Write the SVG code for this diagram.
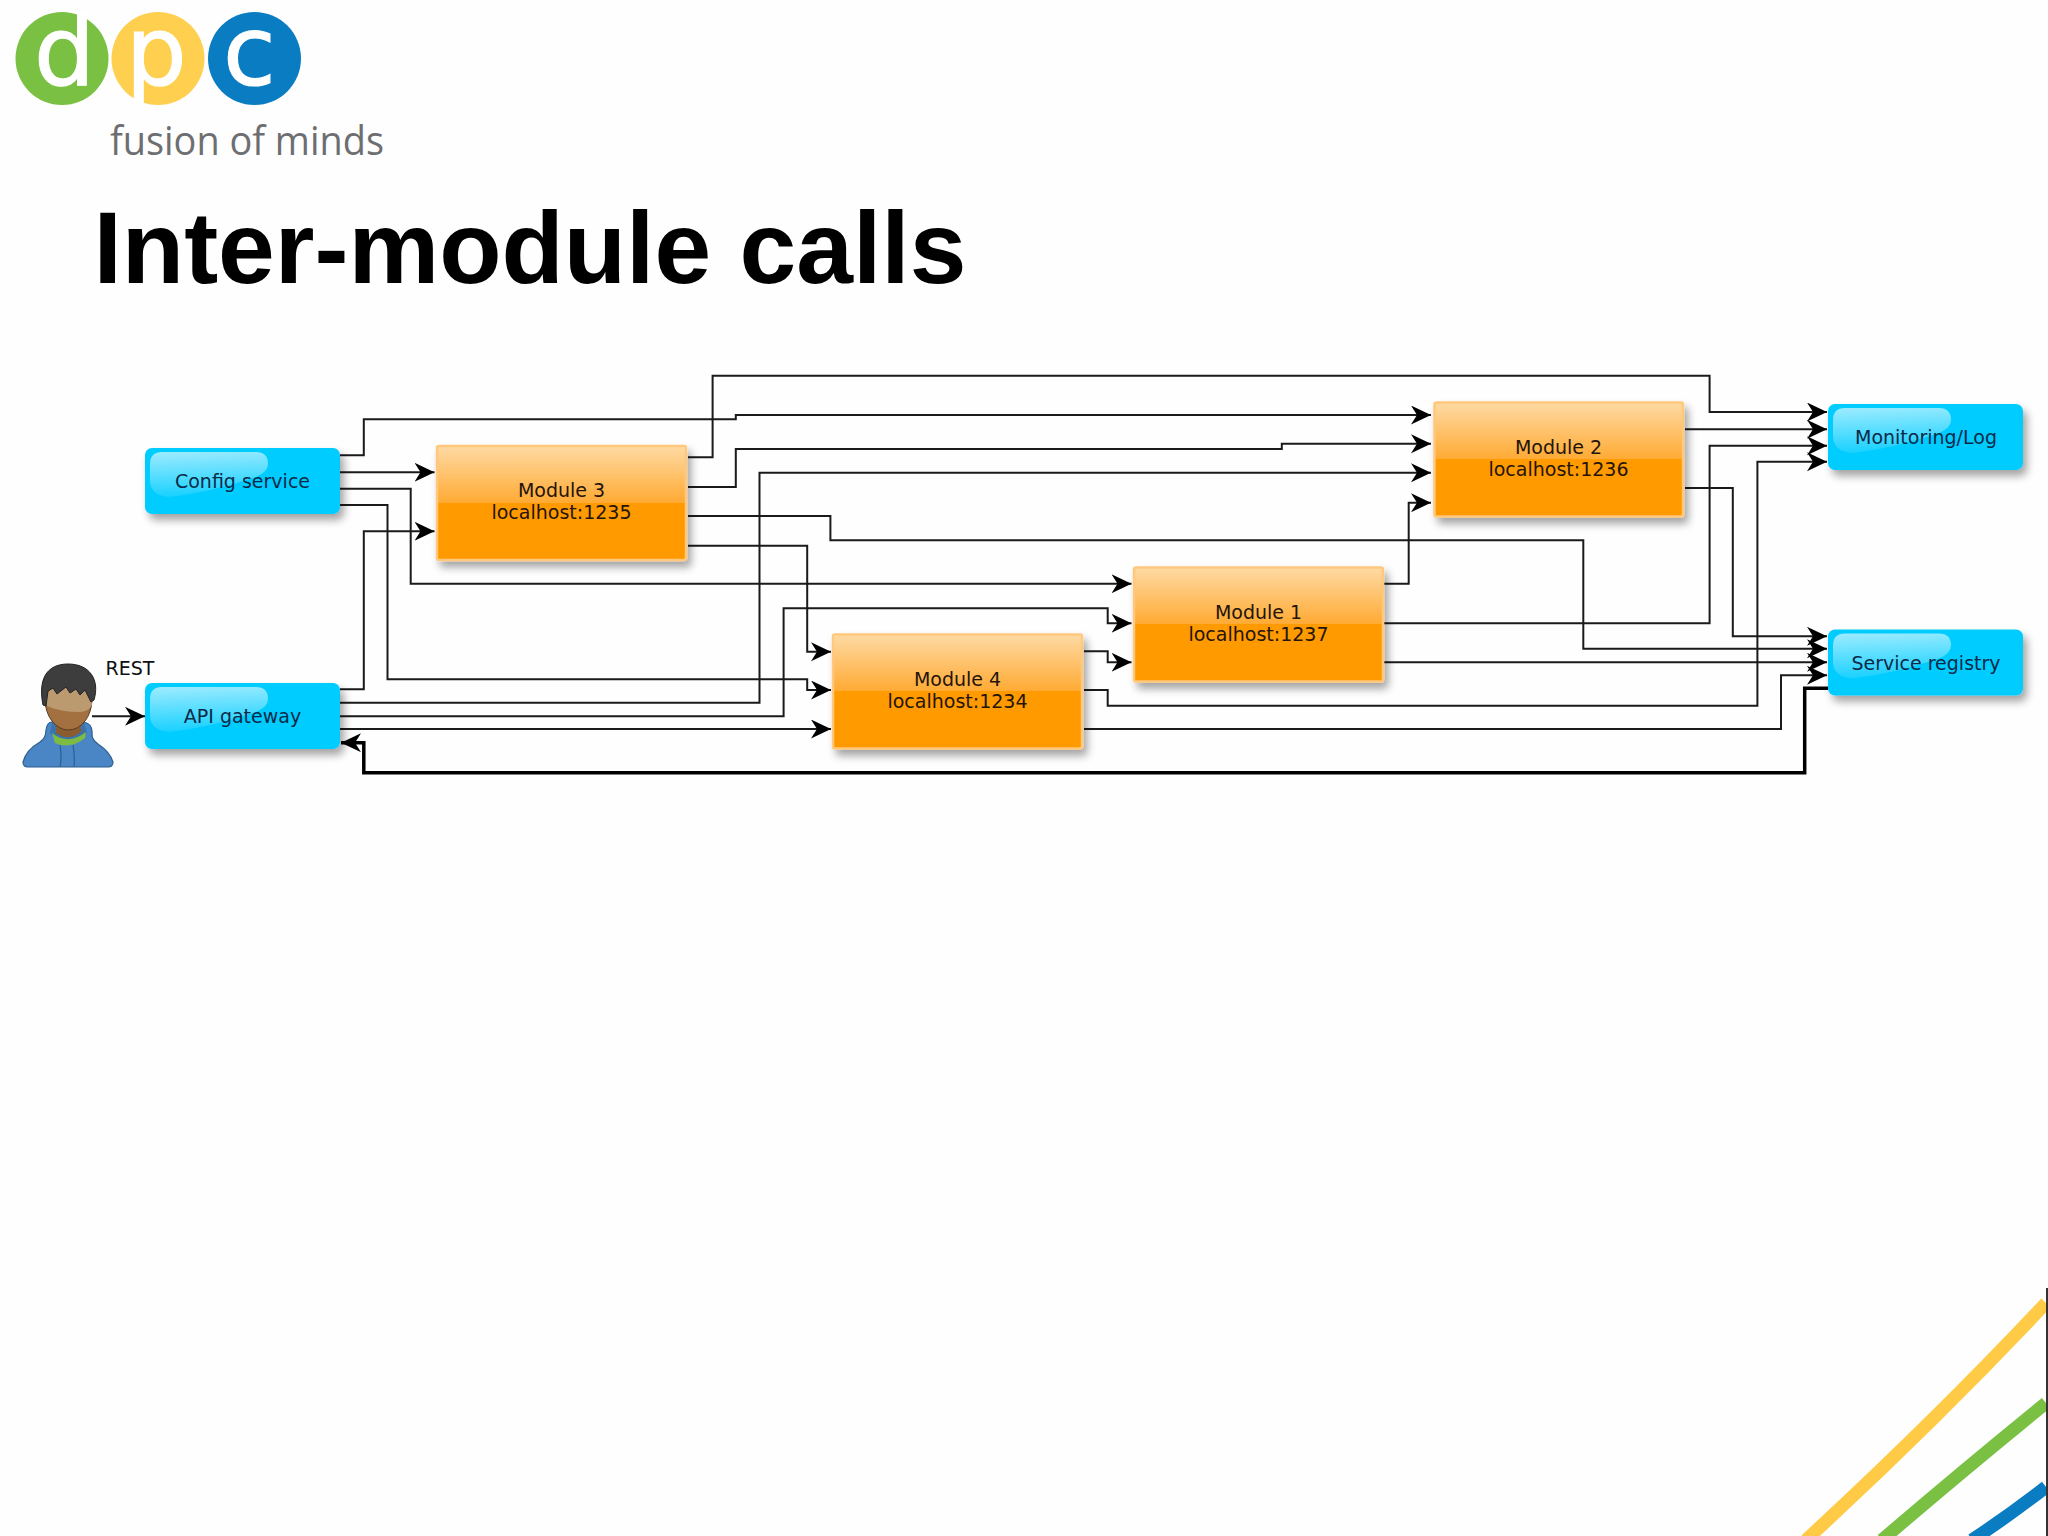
<svg xmlns="http://www.w3.org/2000/svg" width="2048" height="1536" viewBox="0 0 2048 1536">
<defs>
<style>
.c{fill:none;stroke:#1a1a1a;stroke-width:2;marker-end:url(#a)}
.t{font-family:"DejaVu Sans",sans-serif;font-size:19px;fill:#24140a;text-anchor:middle}
.u{fill:#0a2a48}
.b{fill:#00ccff;filter:url(#s)}
.m{fill:url(#mg);stroke:#ffc87c;stroke-width:2.5;filter:url(#s)}
.g{fill:url(#gl)}
</style>
<linearGradient id="mg" x1="0" y1="0" x2="0" y2="1">
<stop offset="0" stop-color="#fedaa4"/><stop offset="0.5" stop-color="#ffaa33"/><stop offset="0.5" stop-color="#ff9a05"/><stop offset="1" stop-color="#ff9900"/>
</linearGradient>
<linearGradient id="gl" x1="0" y1="0" x2="0.12" y2="1">
<stop offset="0" stop-color="#ffffff" stop-opacity="0.62"/><stop offset="1" stop-color="#ffffff" stop-opacity="0.1"/>
</linearGradient>
<path id="gloss" d="M0,12 Q0,0 12,0 H106 Q118,0 118,12 Q118,20 106,25 Q62,40 20,45 Q0,44 0,28 Z"/>
<filter id="s" x="-10%" y="-15%" width="125%" height="150%">
<feGaussianBlur in="SourceAlpha" stdDeviation="4"/><feOffset dx="4" dy="6"/><feComponentTransfer><feFuncA type="linear" slope="0.36"/></feComponentTransfer>
<feMerge><feMergeNode/><feMergeNode in="SourceGraphic"/></feMerge>
</filter>
<marker id="a" markerUnits="userSpaceOnUse" markerWidth="22" markerHeight="20" refX="20" refY="9.500" orient="auto"><path d="M0,0 L20,9.500 L0,19 L6,9.500 z" fill="#000"/></marker>
</defs>
<rect width="2048" height="1536" fill="#fefefe"/>
<g id="logo">
<circle cx="62" cy="58.500" r="46.500" fill="#7ac143"/>
<circle cx="158" cy="58.500" r="46.500" fill="#ffcf4f"/>
<circle cx="254.500" cy="58.500" r="46.500" fill="#0a7dc2"/>
<g font-family="DejaVu Sans, sans-serif" font-size="96" fill="#fff" stroke="#fff" stroke-width="1.2" text-anchor="middle">
<text x="64.500" y="85">d</text>
<text x="156.300" y="85">p</text>
<text x="249.500" y="85">c</text>
</g>
<text x="110" y="155" font-family="Open Sans, sans-serif" font-size="40" fill="#6d6e71" textLength="274" lengthAdjust="spacingAndGlyphs">fusion of minds</text>
</g>
<text id="title" x="93.500" y="283" font-family="Liberation Sans, sans-serif" font-weight="bold" font-size="102" fill="#000">Inter-module calls</text>
<g id="swoosh" fill="none" stroke-width="13">
<path d="M1806,1540 Q1936,1420 2046,1303" stroke="#ffcb47"/>
<path d="M1882,1540 Q1958,1474.500 2046,1403" stroke="#7ac143"/>
<path d="M1972,1540 Q2010,1515 2046,1487" stroke="#0a7dc2"/>
<path d="M2047,1288V1536" stroke="#333" stroke-width="2"/>
</g>
<g id="connectors">
<path class="c" d="M92,716.300H145"/>
<path class="c" d="M340,455.300H363.800V419.300H735.800V415H1431"/>
<path class="c" d="M340,472.300H434.500"/>
<path class="c" d="M340,488.700H410.700V583.700H1131.500"/>
<path class="c" d="M340,505H387.500V679.300H807.200V690H831"/>
<path class="c" d="M340,689.300H363.800V531.300H434.500"/>
<path class="c" d="M340,702.700H759.500V472.700H1431"/>
<path class="c" d="M340,716.300H783.600V608.300H1107.700V623.300H1131.500"/>
<path class="c" d="M340,729H831"/>
<path class="c" d="M688,457.300H712.600V375.700H1709.600V412H1827"/>
<path class="c" d="M688,487H735.800V449H1281.800V443.700H1431"/>
<path class="c" d="M688,516H830.400V540.300H1583.300V648.700H1827"/>
<path class="c" d="M688,545.700H807.200V651.700H831"/>
<path class="c" d="M1084,651.300H1107.700V662.300H1131.500"/>
<path class="c" d="M1084,690H1107.700V705.700H1757.400V461.700H1827"/>
<path class="c" d="M1084,729H1781V675.300H1827"/>
<path class="c" d="M1384,583.700H1408.700V502.700H1431"/>
<path class="c" d="M1384,623.300H1709.600V445.700H1827"/>
<path class="c" d="M1384,662.300H1827"/>
<path class="c" d="M1685,429.300H1827"/>
<path class="c" d="M1685,488H1732.800V636.300H1827"/>
<path class="c" style="stroke-width:3.500;stroke:#000" d="M1828,688.300H1804.700V772.700H363.800V742.700H341"/>
</g>
<g id="person" stroke-linejoin="round">
<path d="M23,762 Q26,750 40,742 Q46,738 46,730 Q47,722 52,722 L84,722 Q93,724 92,734 Q92,740 98,744 Q110,752 113,762 Q113,767 108,767 L28,767 Q23,767 23,762 Z" fill="#4a86c5" stroke="#2d5f8f" stroke-width="1.200"/>
<path d="M52,722 H84 L87,733 Q68,752 50,733 Z" fill="#3b74ad"/>
<path d="M52,733 Q68,746 86,732 L85,738 Q70,750 55,743 Z" fill="#7dbb42"/>
<path d="M56,722 H81 V732 Q68,742 56,733 Z" fill="#8a5c30"/>
<path d="M60,745 Q62,756 60,767 M73,745 Q75,756 74,767" stroke="#2d5f8f" fill="none" stroke-width="1.200"/>
<ellipse cx="68.500" cy="699" rx="23.500" ry="31" fill="#a2713f" stroke="#5a3b1c" stroke-width="1"/>
<path d="M45.500,700 Q46,690 55,688 H85 Q92,692 92,705 Q88,712 80,712 Q60,712 47,706 Z" fill="#bb9a70"/>
<path d="M43,705 C38,680 46,664 68,664 C90,664 100,680 94,700 L91,702 L85,690 L80,695 L76,689 L70,693 L66,687 L57,694 L53,688 L48,691 L46,706 Z" fill="#3d3d3d" stroke="#222" stroke-width="1"/>
</g>
<text id="rest" x="105.500" y="675" font-family="DejaVu Sans, sans-serif" font-size="19" fill="#111">REST</text>
<g id="config"><rect class="b" x="145" y="448" width="195" height="66" rx="7"/><use href="#gloss" class="g" x="150" y="452"/><text class="t u" x="242.500" y="488">Config service</text></g>
<g id="api"><rect class="b" x="145" y="683" width="195" height="66" rx="7"/><use href="#gloss" class="g" x="150" y="687"/><text class="t u" x="242.500" y="723">API gateway</text></g>
<g id="monitoring"><rect class="b" x="1828" y="404" width="195" height="66" rx="7"/><use href="#gloss" class="g" x="1833" y="408"/><text class="t u" x="1926" y="444">Monitoring/Log</text></g>
<g id="registry"><rect class="b" x="1828" y="629.500" width="195" height="66" rx="7"/><use href="#gloss" class="g" x="1833" y="633.500"/><text class="t u" x="1926" y="669.500">Service registry</text></g>
<g id="module3"><rect class="m" x="437" y="446" width="249" height="114" rx="2"/><text class="t" x="561.500" y="497">Module 3</text><text class="t" x="561.500" y="519">localhost:1235</text></g>
<g id="module4"><rect class="m" x="833" y="634.500" width="249" height="114" rx="2"/><text class="t" x="957.500" y="685.500">Module 4</text><text class="t" x="957.500" y="707.500">localhost:1234</text></g>
<g id="module1"><rect class="m" x="1134" y="567.500" width="249" height="114" rx="2"/><text class="t" x="1258.500" y="618.500">Module 1</text><text class="t" x="1258.500" y="640.500">localhost:1237</text></g>
<g id="module2"><rect class="m" x="1434.500" y="402.500" width="248.500" height="114" rx="2"/><text class="t" x="1558.500" y="453.500">Module 2</text><text class="t" x="1558.500" y="475.500">localhost:1236</text></g>
</svg>
